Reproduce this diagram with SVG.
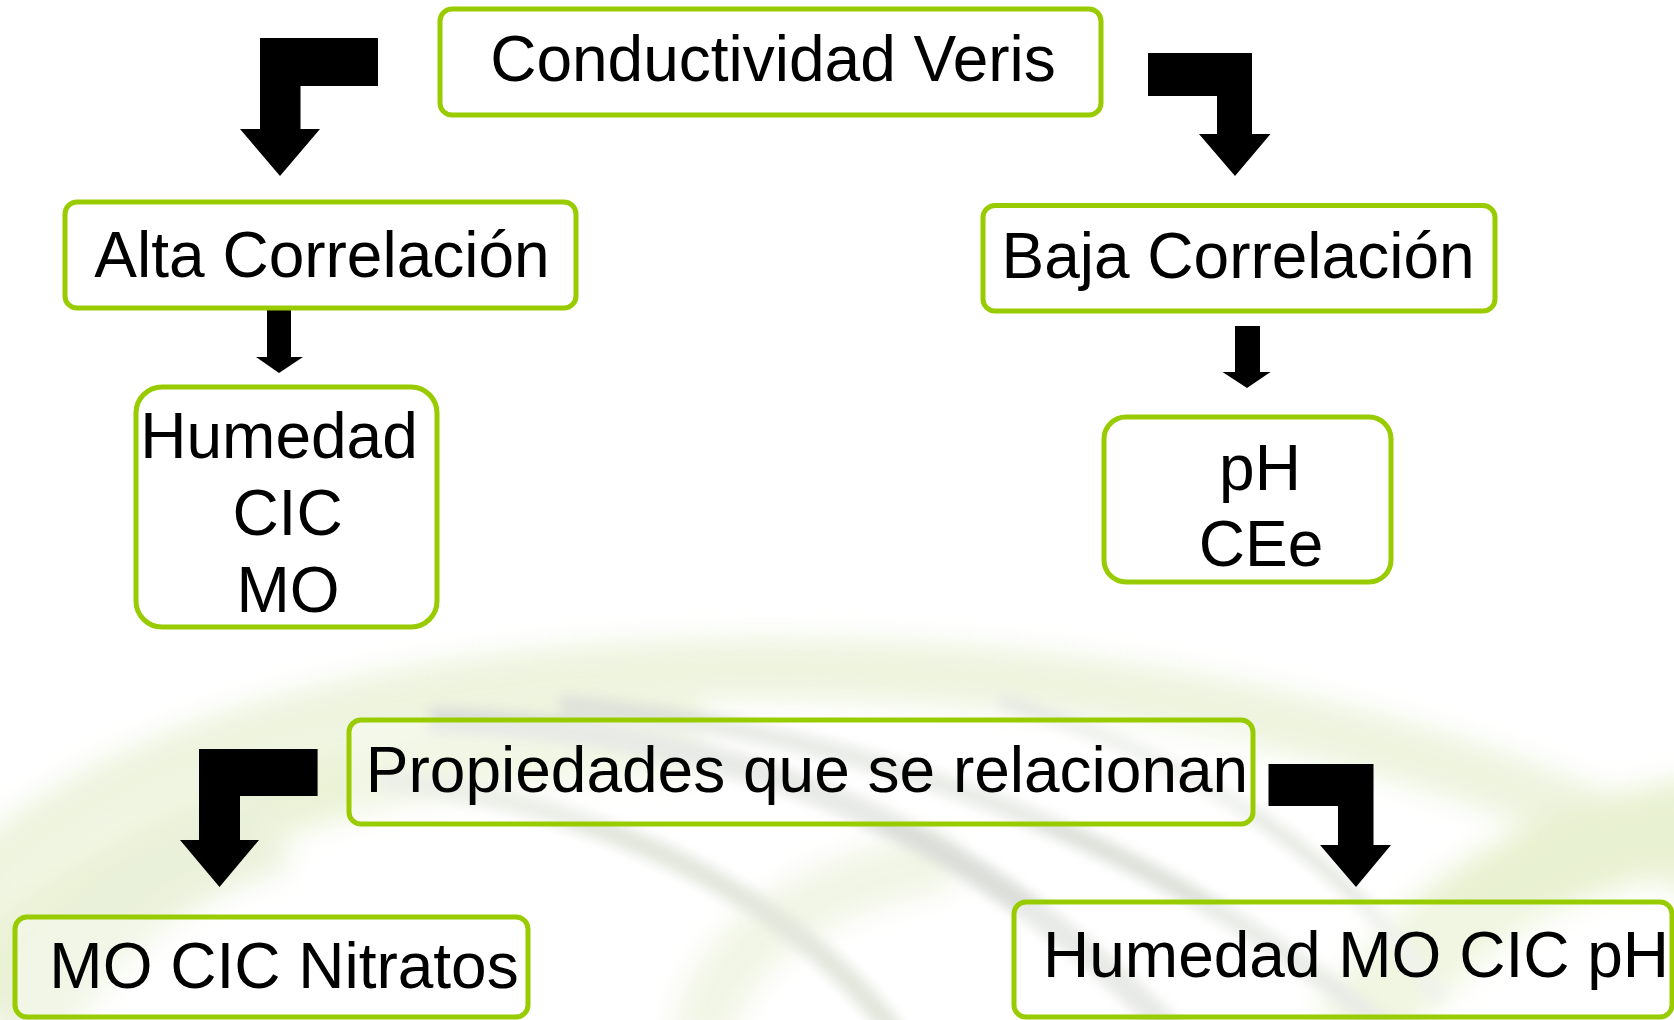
<svg xmlns="http://www.w3.org/2000/svg" width="1674" height="1020" viewBox="0 0 1674 1020">
<defs>
<style>
.box{fill:#ffffff;fill-opacity:0.35;stroke:#99CC00;stroke-width:5}
.lbl{font-family:"Liberation Sans",Arial,sans-serif;font-size:64px;fill:#000000;text-anchor:middle}
.arr{fill:#000000}
</style>
<filter id="blur" x="-20%" y="-20%" width="140%" height="140%"><feGaussianBlur stdDeviation="14"/></filter>
<filter id="blur2" x="-20%" y="-20%" width="140%" height="140%"><feGaussianBlur stdDeviation="6"/></filter>
</defs>
<rect width="1674" height="1020" fill="#ffffff"/>
<g id="background">
<g filter="url(#blur)" opacity="0.8">
<path d="M -40 900 C 150 700 550 660 850 670 C 1200 680 1500 760 1720 880" fill="none" stroke="#e9f1d6" stroke-width="60"/>
<path d="M -40 1000 C 120 800 450 740 700 740" fill="none" stroke="#e6efcc" stroke-width="70"/>
<path d="M 1350 1040 C 1450 900 1560 840 1720 820" fill="none" stroke="#e3eec6" stroke-width="90"/>
<path d="M 20 1040 C 100 900 200 850 280 830" fill="none" stroke="#e6eed2" stroke-width="80"/>
<path d="M 700 1040 C 720 940 820 880 950 860" fill="none" stroke="#eef3df" stroke-width="60"/>
</g>
<g filter="url(#blur2)">
<path d="M 430 720 C 700 730 950 800 1180 1040" fill="none" stroke="#dcdfd9" stroke-width="26"/>
<path d="M 560 705 C 850 730 1150 830 1400 1040" fill="none" stroke="#dee2da" stroke-width="20"/>
<path d="M 380 780 C 600 800 800 900 900 1040" fill="none" stroke="#e3e7dd" stroke-width="22"/>
<path d="M 1000 700 C 1200 760 1350 860 1440 1000" fill="none" stroke="#e8ebe4" stroke-width="16"/>
</g>
</g>
<g id="connectors">
<polygon class="arr" points="378,38 260,38 260,129 240,129 280,176 320,129 300.5,129 300.5,86 378,86"/>
<polygon class="arr" points="1148,53 1252,53 1252,134 1270.5,134 1235,176 1199,134 1217,134 1217,96 1148,96"/>
<polygon class="arr" points="267,310 291,310 291,357 303,357 279,373 256,357 267,357"/>
<polygon class="arr" points="1235,326 1260,326 1260,372 1270.5,372 1247,388 1222.5,372 1235,372"/>
<polygon class="arr" points="317.6,749 199,749 199,840 180,840 219.5,887 259,840 240,840 240,796 317.6,796"/>
<polygon class="arr" points="1268.5,764 1373.5,764 1373.5,845 1391,845 1356,887 1320,845 1338,845 1338,806 1268.5,806"/>
</g>
<g id="conductividad">
<rect class="box" x="440" y="9" width="661" height="106" rx="12"/>
<text class="lbl" x="773" y="81">Conductividad Veris</text>
</g>
<g id="alta">
<rect class="box" x="65" y="202" width="511" height="106" rx="12"/>
<text class="lbl" x="322" y="277">Alta Correlación</text>
</g>
<g id="baja">
<rect class="box" x="983" y="205.5" width="512" height="105.5" rx="12"/>
<text class="lbl" x="1238" y="277.5">Baja Correlación</text>
</g>
<g id="alta-props">
<rect class="box" x="136" y="387" width="301" height="240" rx="26"/>
<text class="lbl" x="279" y="458">Humedad</text>
<text class="lbl" x="287.5" y="535">CIC</text>
<text class="lbl" x="288" y="612">MO</text>
</g>
<g id="baja-props">
<rect class="box" x="1104" y="417" width="287" height="165" rx="22"/>
<text class="lbl" x="1260" y="490">pH</text>
<text class="lbl" x="1261" y="566">CEe</text>
</g>
<g id="propiedades">
<rect class="box" x="349" y="720" width="904" height="104" rx="12"/>
<text class="lbl" x="807" y="792">Propiedades que se relacionan</text>
</g>
<g id="mo-cic-nitratos">
<rect class="box" x="15" y="917" width="513" height="100" rx="12"/>
<text class="lbl" x="284" y="988">MO CIC Nitratos</text>
</g>
<g id="humedad-mo-cic-ph">
<rect class="box" x="1014" y="902" width="658" height="115" rx="12"/>
<text class="lbl" x="1356" y="977">Humedad MO CIC pH</text>
</g>
</svg>
